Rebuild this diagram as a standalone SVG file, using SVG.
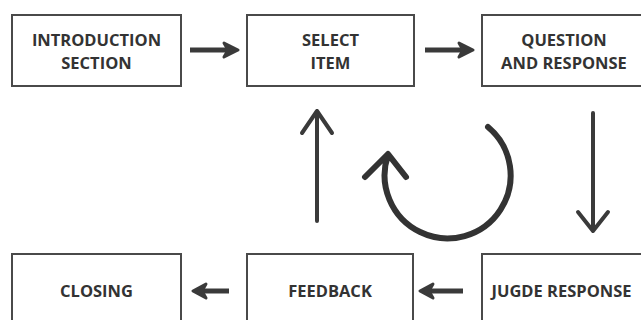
<svg xmlns="http://www.w3.org/2000/svg" width="641" height="320" viewBox="0 0 641 320">
<style>
.box{fill:#fff;stroke:#4a4a4a;stroke-width:2}
.t{font-family:"Open Sans","Liberation Sans",sans-serif;font-weight:bold;font-size:16.5px;fill:#333;text-anchor:middle}
.ha{fill:none;stroke:#3a3a3a;stroke-width:5;stroke-linecap:butt;stroke-linejoin:miter}
.hh{fill:#3a3a3a;stroke:#3a3a3a;stroke-width:3;stroke-linejoin:round}
.va{fill:none;stroke:#3a3a3a;stroke-width:4;stroke-linecap:round;stroke-linejoin:round}
.arc{fill:none;stroke:#333;stroke-width:6;stroke-linecap:round;stroke-linejoin:round}
</style>
<rect width="641" height="320" fill="#fff"/>
<g id="intro"><rect class="box" x="12" y="15" width="169" height="71"/><text class="t" x="96.5" y="46">INTRODUCTION</text><text class="t" x="96.5" y="69">SECTION</text></g>
<g id="select"><rect class="box" x="247" y="15" width="167" height="71"/><text class="t" x="330.5" y="46">SELECT</text><text class="t" x="330.5" y="69">ITEM</text></g>
<g id="question"><rect class="box" x="482" y="15" width="170" height="71"/><text class="t" x="564" y="46">QUESTION</text><text class="t" x="564" y="69">AND RESPONSE</text></g>
<g id="closing"><rect class="box" x="12" y="254" width="169" height="80"/><text class="t" x="96.5" y="297">CLOSING</text></g>
<g id="feedback"><rect class="box" x="247" y="254" width="166" height="80"/><text class="t" x="330" y="297">FEEDBACK</text></g>
<g id="judge"><rect class="box" x="482" y="254" width="170" height="80"/><text class="t" x="561.5" y="297">JUGDE RESPONSE</text></g>
<g id="connectors">
<path class="ha" d="M190 50 H230"/><path class="hh" d="M224 43 L238 50 L224 57 L228 50 Z"/>
<path class="ha" d="M425 50 H465"/><path class="hh" d="M459 43 L473 50 L459 57 L463 50 Z"/>
<path class="ha" d="M229 291 H200"/><path class="hh" d="M206 284 L193 291 L206 298 L202 291 Z"/>
<path class="ha" d="M463 291 H426"/><path class="hh" d="M433 284 L420 291 L433 298 L429 291 Z"/>
<path class="va" d="M317 221 V111 M302 133 L317 111 L332 133"/>
<path class="va" d="M593 113 V231 M578 212 L593 231 L608 212"/>
<path class="arc" d="M488 127 A63 63 0 1 1 388 155 M365 177 L388 154 L406 177"/>
</g>
</svg>
